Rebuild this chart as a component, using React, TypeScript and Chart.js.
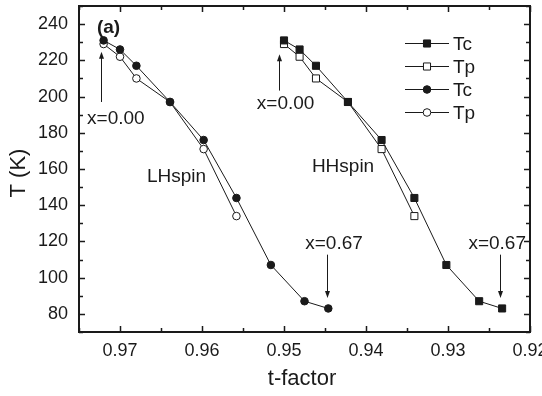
import React, { useEffect, useRef } from "react";
import { Chart, registerables } from "chart.js";

Chart.register(...registerables);

// ---- data ----
const lhTFactor = [0.972, 0.97, 0.968, 0.9639, 0.9598, 0.9558, 0.9516, 0.9475, 0.9446];
const lhTc = [231, 226, 217, 197, 176, 144, 107, 87, 83];
const lhTpTFactor = [0.972, 0.97, 0.968, 0.9639, 0.9598, 0.9558];
const lhTp = [229, 222, 210, 197, 171, 134];

const hhTFactor = [0.95, 0.9481, 0.9461, 0.9422, 0.9381, 0.9341, 0.9302, 0.9262, 0.9234];
const hhTc = [231, 226, 217, 197, 176, 144, 107, 87, 83];
const hhTpTFactor = [0.95, 0.9481, 0.9461, 0.9422, 0.9381, 0.9341];
const hhTp = [229, 222, 210, 197, 171, 134];

const xTickValues = [0.92, 0.93, 0.94, 0.95, 0.96, 0.97];
const yTickValues = [80, 100, 120, 140, 160, 180, 200, 220, 240];

const legendLabels = ["Tc", "Tp", "Tc", "Tp"];

const FONT = "'Liberation Sans', Arial, Helvetica, sans-serif";
const INK = "#1a1a1a";

const pts = (xs: number[], ys: number[]) => xs.map((x, i) => ({ x, y: ys[i] }));

// annotation texts placed in data coordinates
const arrowNotes = [
  { text: "x=0.00", tx: 0.9705, ty: 187.6, ax: 0.9723, y0: 197, y1: 224.8 },
  { text: "x=0.00", tx: 0.9498, ty: 195.8, ax: 0.9506, y0: 203.3, y1: 223.4 },
  { text: "x=0.67", tx: 0.9439, ty: 118.9, ax: 0.9447, y0: 112.7, y1: 88.8 },
  { text: "x=0.67", tx: 0.924, ty: 118.9, ax: 0.9236, y0: 112.7, y1: 88.8 },
];
const labelNotes = [
  { text: "LHspin", x: 0.9631, y: 155.5, bold: false },
  { text: "HHspin", x: 0.9428, y: 161.4, bold: false },
  { text: "(a)", x: 0.9714, y: 238, bold: true },
];

const decorPlugin = {
  id: "decor",
  afterDraw(chart: any) {
    const { ctx, chartArea: ca, scales } = chart;
    const xs = scales.x;
    const ys = scales.y;
    ctx.save();
    ctx.strokeStyle = INK;
    ctx.fillStyle = INK;

    // frame
    ctx.lineWidth = 2;
    ctx.strokeRect(ca.left, ca.top, ca.right - ca.left, ca.bottom - ca.top);

    // ticks
    ctx.lineWidth = 1.5;
    ctx.beginPath();
    for (let k = 0; k <= 11; k++) {
      const v = 0.92 + k * 0.005;
      const major = k % 2 === 0;
      const len = major ? 6 : 4;
      const px = Math.round(xs.getPixelForValue(v)) + 0.5;
      ctx.moveTo(px, ca.bottom);
      ctx.lineTo(px, ca.bottom - len);
      ctx.moveTo(px, ca.top);
      ctx.lineTo(px, ca.top + len);
    }
    for (let v = 70; v <= 250; v += 10) {
      const major = v % 20 === 0;
      const len = major ? 6 : 4;
      const py = Math.round(ys.getPixelForValue(v)) + 0.5;
      ctx.moveTo(ca.left, py);
      ctx.lineTo(ca.left + len, py);
      ctx.moveTo(ca.right, py);
      ctx.lineTo(ca.right - len, py);
    }
    ctx.stroke();

    // axis titles
    ctx.font = `22px ${FONT}`;
    ctx.textAlign = "center";
    ctx.textBaseline = "middle";
    ctx.fillText("t-factor", 302, 379);
    ctx.save();
    ctx.translate(19, 173);
    ctx.rotate(-Math.PI / 2);
    ctx.fillText("T (K)", 0, 0);
    ctx.restore();

    // arrows + notes
    ctx.lineWidth = 1;
    for (const n of arrowNotes) {
      ctx.font = `19px ${FONT}`;
      ctx.fillText(n.text, xs.getPixelForValue(n.tx), ys.getPixelForValue(n.ty));
      const ax = Math.round(xs.getPixelForValue(n.ax)) + 0.5;
      const p0 = ys.getPixelForValue(n.y0);
      const p1 = ys.getPixelForValue(n.y1);
      const dir = p1 < p0 ? -1 : 1;
      ctx.beginPath();
      ctx.moveTo(ax, p0);
      ctx.lineTo(ax, p1 - dir * 5);
      ctx.stroke();
      ctx.beginPath();
      ctx.moveTo(ax, p1);
      ctx.lineTo(ax - 2.5, p1 - dir * 7);
      ctx.lineTo(ax + 2.5, p1 - dir * 7);
      ctx.closePath();
      ctx.fill();
    }
    for (const n of labelNotes) {
      ctx.font = `${n.bold ? "bold " : ""}19px ${FONT}`;
      ctx.fillText(n.text, xs.getPixelForValue(n.x), ys.getPixelForValue(n.y));
    }

    // legend
    const order = [2, 3, 0, 1];
    const lx0 = ca.right - 125;
    const lx1 = ca.right - 81;
    const mx = (lx0 + lx1) / 2;
    order.forEach((di, row) => {
      const ds = chart.data.datasets[di];
      const y = Math.round(ca.top + 36.5 + row * 23) + 0.5;
      ctx.lineWidth = 1;
      ctx.strokeStyle = INK;
      ctx.beginPath();
      ctx.moveTo(lx0, y);
      ctx.lineTo(lx1, y);
      ctx.stroke();
      const r = ds.pointRadius;
      ctx.fillStyle = ds.pointBackgroundColor;
      ctx.beginPath();
      if (ds.pointStyle === "rect") {
        const s = Math.SQRT1_2 * r;
        ctx.rect(mx - s, y - s, 2 * s, 2 * s);
      } else {
        ctx.arc(mx, y, r, 0, Math.PI * 2);
      }
      ctx.fill();
      ctx.stroke();
      ctx.fillStyle = INK;
      ctx.font = `19px ${FONT}`;
      ctx.textAlign = "left";
      ctx.fillText(legendLabels[row], lx1 + 4, y + 1);
      ctx.textAlign = "center";
    });

    ctx.restore();
  },
};

export default function App() {
  const ref = useRef<HTMLCanvasElement | null>(null);

  useEffect(() => {
    document.body.style.margin = "0";
    document.body.style.overflow = "hidden";
    const canvas = ref.current;
    if (!canvas) return;

    const common = {
      showLine: true,
      borderColor: INK,
      borderWidth: 1,
      pointBorderColor: INK,
      pointBorderWidth: 1,
      tension: 0,
    };

    const chart = new Chart(canvas, {
      type: "scatter",
      data: {
        datasets: [
          { ...common, label: "Tc", data: pts(lhTFactor, lhTc), pointStyle: "circle", pointRadius: 3.8, pointBackgroundColor: INK },
          { ...common, label: "Tp", data: pts(lhTpTFactor, lhTp), pointStyle: "circle", pointRadius: 3.8, pointBackgroundColor: "#ffffff" },
          { ...common, label: "Tc", data: pts(hhTFactor, hhTc), pointStyle: "rect", pointRadius: 5, pointBackgroundColor: INK },
          { ...common, label: "Tp", data: pts(hhTpTFactor, hhTp), pointStyle: "rect", pointRadius: 5, pointBackgroundColor: "#ffffff" },
        ],
      },
      options: {
        responsive: false,
        animation: false,
        layout: { padding: { top: 3, right: 12, left: 0, bottom: 0 } },
        plugins: { legend: { display: false }, tooltip: { enabled: false } },
        scales: {
          x: {
            type: "linear",
            reverse: true,
            min: 0.92,
            max: 0.975,
            grid: { display: false, drawTicks: false },
            border: { display: false },
            afterBuildTicks: (s: any) => {
              s.ticks = xTickValues.map((v) => ({ value: v }));
            },
            afterFit: (s: any) => {
              s.height = 64;
              s.paddingLeft = 0;
              s.paddingRight = 0;
            },
            ticks: {
              padding: 8,
              color: INK,
              font: { family: FONT, size: 18 },
              callback: (v: any) => Number(v).toFixed(2),
              maxRotation: 0,
            },
          },
          y: {
            type: "linear",
            min: 70,
            max: 250,
            grid: { display: false, drawTicks: false },
            border: { display: false },
            afterBuildTicks: (s: any) => {
              s.ticks = yTickValues.map((v) => ({ value: v }));
            },
            afterFit: (s: any) => {
              s.width = 79;
              s.paddingTop = 0;
              s.paddingBottom = 0;
            },
            ticks: {
              padding: 11,
              color: INK,
              font: { family: FONT, size: 18 },
              callback: (v: any) => String(v),
            },
          },
        },
      },
      plugins: [decorPlugin],
    });

    return () => chart.destroy();
  }, []);

  return <canvas ref={ref} width={542} height={396} style={{ display: "block" }} />;
}
